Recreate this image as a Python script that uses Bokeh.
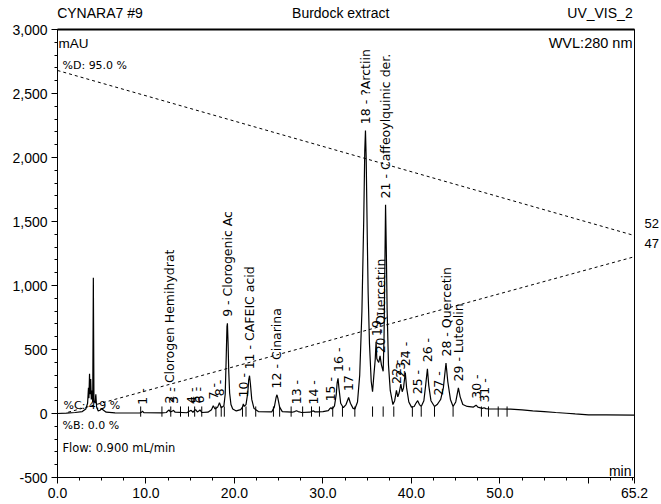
import numpy as np
from bokeh.plotting import figure
from bokeh.models import (FixedTicker, NumeralTickFormatter, Label, ColumnDataSource, Range1d,
                          LinearAxis)
from bokeh.core.properties import value
from bokeh.embed import file_html
from bokeh.resources import INLINE

# ---------------- data ----------------
# chromatogram trace (retention time in min, signal in mAU)
trace_t = [0.0, 1.0, 2.0, 2.8, 3.2, 3.4, 3.5, 3.55, 3.62, 3.68, 3.75, 3.82, 3.9, 3.98, 4.05, 4.12,
           4.25, 4.33, 4.42, 4.6, 4.8, 5.0, 5.2, 5.5, 6.5,
           9.3, 9.5, 9.6, 9.75, 11.8, 12.3, 12.5, 12.6, 12.75, 13.0, 13.1, 13.3, 14.6, 14.9, 15.1,
           15.3, 15.5, 15.6, 15.8, 16.0, 16.1, 16.3, 17.0, 17.4, 17.6, 17.8, 18.1, 18.3, 18.5, 18.7,
           18.8, 18.95, 19.05, 19.15, 19.2, 19.27, 19.35, 19.45, 19.6, 19.8, 20.2,
           20.7, 20.9, 21.0, 21.1, 21.3, 21.5, 21.6, 21.7, 21.8, 21.95, 22.2, 22.7, 24.2, 24.5, 24.7,
           24.8, 24.9, 25.1, 25.4, 26.5, 26.8, 27.0, 27.2, 27.6, 28.5, 28.8, 28.95, 29.1, 29.3,
           30.0, 30.6, 30.8, 30.9, 31.05, 31.3, 31.5, 31.6, 31.7, 31.8, 32.0, 32.3, 32.6, 32.9, 33.1,
           33.4, 33.6, 33.9, 34.15, 34.4, 34.6, 34.72, 34.8, 34.88, 35.0, 35.1, 35.25, 35.45, 35.6,
           35.75, 35.9, 36.0, 36.08, 36.2, 36.3, 36.45, 36.6, 36.8, 36.9, 37.0, 37.07, 37.15, 37.25,
           37.4, 37.6, 37.9, 38.1, 38.3, 38.45, 38.6, 38.8, 38.95, 39.1, 39.3, 39.45, 39.7, 40.0,
           40.3, 40.5, 40.7, 40.9, 41.1, 41.4, 41.6, 41.8, 41.95, 42.2, 42.6, 42.9, 43.1, 43.3, 43.6,
           43.9, 44.1, 44.4, 44.7, 45.0, 45.3, 45.5, 45.8, 46.3, 47.0, 47.3, 47.5, 48.0, 48.2, 48.4,
           48.8, 50.0, 51.2, 52.5, 53.7, 55.0, 56.3, 57.5, 58.5, 60.0, 62.0, 65.2]
trace_mau = [0, 3, 8, 15, 35, 80, 200, 120, 310, 150, 270, 110, 180, 90, 1060, 100,
             80, 150, 50, 20, 25, 37, 25, 10, 5,
             4, 10, 18, 6, 5, 8, 22, 28, 12, 20, 25, 10, 6, 18, 25,
             10, 25, 30, 12, 22, 28, 8, 10, 30, 60, 35, 50, 85, 45, 55,
             60, 150, 400, 680, 705, 560, 330, 160, 70, 35, 20,
             30, 50, 75, 55, 70, 160, 260, 295, 230, 110, 40, 15, 12, 50, 125,
             146, 120, 50, 15, 10, 15, 22, 15, 8, 10, 18, 20, 12, 12,
             15, 22, 40, 45, 35, 60, 150, 240, 275, 200, 80, 45, 70, 125, 80,
             40, 35, 90, 300, 800, 1500, 2050, 2210, 2000, 1400, 950, 550, 250, 170,
             300, 420, 560, 430, 410, 400, 450, 380, 330, 600, 1200, 1630, 1300, 800,
             380, 180, 70, 100, 180, 130, 160, 230, 170, 200, 320, 200, 90, 50,
             55, 80, 100, 70, 55, 100, 220, 350, 220, 100, 55, 70, 90, 110, 200,
             395, 250, 110, 55, 90, 200, 130, 70, 55, 50, 65, 50, 40, 45, 38,
             35, 35, 34, 28, 21, 15, 8, 2, -3, -10, -10, -12]

# gradient profiles drawn on the chromatogram scale
grad_d_t = [0.0, 65.2]
grad_d = [2680, 1390]
grad_c_t = [1.2, 65.2]
grad_c = [10, 1225]
grad_end_labels = ["52", "47"]

# integrated peaks
peak_no = list(range(1, 32))
peak_t = [9.6, 12.6, 13.1, 15.1, 15.6, 16.1, 17.6, 18.3, 19.2, 21.0, 21.7, 24.8, 27.0, 28.9,
          30.9, 31.7, 32.9, 34.8, 36.0, 36.5, 37.1, 38.3, 38.8, 39.3, 40.7, 41.8, 43.1, 43.9,
          45.3, 47.3, 48.2]
peak_h = [18, 28, 25, 25, 30, 28, 60, 85, 705, 75, 295, 146, 22, 20,
          45, 275, 125, 2210, 555, 420, 1630, 180, 230, 320, 100, 350, 90, 395,
          200, 65, 35]
peak_name = ["", "Clorogen Hemihydrat", "", "", "", "", "", "", "Clorogenic Ac", "", "CAFEIC acid",
             "Cinarina", "", "", "", "", "", "?Arctiin", "", "Quercetrin", "Caffeoylquinic der.",
             "", "", "", "", "", "", "Quercetin", "Luteolin", "", ""]
# peak boundary markers
bound_t = [9.4, 11.8, 12.8, 13.9, 14.8, 15.5, 16.3, 17.9, 18.5, 18.85, 20.9, 21.3, 22.4, 24.4,
           25.1, 26.4, 27.7, 28.7, 29.6, 31.1, 32.2, 33.6, 35.6, 36.8, 38.0, 40.1, 41.1, 42.6,
           44.7, 47.9, 48.7, 49.8, 50.8]

header_texts = ["CYNARA7 #9", "Burdock extract", "UV_VIS_2"]

x_ticks = [0, 10, 20, 30, 40, 50, 60, 65.2]
y_ticks = [-500, 0, 500, 1000, 1500, 2000, 2500, 3000]

# ---------------- figure ----------------
p = figure(width=661, height=504, x_range=Range1d(0, 65.2), y_range=Range1d(-500, 3000),
           output_backend="svg", toolbar_location=None, title=None,
           min_border_left=57, min_border_right=18, min_border_top=29, min_border_bottom=27)
p.xgrid.visible = False
p.ygrid.visible = False
p.outline_line_color = "black"
p.outline_line_width = 1
p.background_fill_color = "white"
p.border_fill_color = "white"

ax = p.xaxis[0]
ax.ticker = FixedTicker(ticks=x_ticks, minor_ticks=list(np.arange(0, 65.2, 2.5)))
ax.formatter = NumeralTickFormatter(format="0.0")
ax.major_label_overrides = {60: ""}
ay = p.yaxis[0]
ay.ticker = FixedTicker(ticks=y_ticks, minor_ticks=list(range(-500, 3001, 100)))
ay.formatter = NumeralTickFormatter(format="0,0")
for a in (ax, ay):
    a.axis_line_color = "black"
    a.major_tick_line_color = "black"
    a.minor_tick_line_color = "black"
    a.major_tick_in = 0
    a.major_tick_out = 6
    a.minor_tick_in = 0
    a.minor_tick_out = 3
    a.major_label_text_font = "Liberation Sans"
    a.major_label_text_font_size = "14px"
    a.major_label_text_color = "black"
    a.major_label_standoff = 4

# header line above the frame (axis used only to carry the texts and the thick top rule)
head_pos = [4.8, 32.0, 61.3]
top = LinearAxis(ticker=FixedTicker(ticks=head_pos, minor_ticks=[]),
                 major_label_overrides={k: t for k, t in zip(head_pos, header_texts)},
                 axis_line_width=2, axis_line_color="black", major_tick_line_color=None,
                 minor_tick_line_color=None, major_label_standoff=3,
                 major_label_text_font="Liberation Sans", major_label_text_font_size="14px",
                 major_label_text_color="black")
p.add_layout(top, "above")

# end values of the gradient lines, right of the frame
end_pos = [1486, 1330]
right = LinearAxis(ticker=FixedTicker(ticks=end_pos, minor_ticks=[]),
                   major_label_overrides={k: t for k, t in zip(end_pos, grad_end_labels)},
                   axis_line_color=None, major_tick_line_color=None, minor_tick_line_color=None,
                   major_label_standoff=4, major_label_text_font="Liberation Sans",
                   major_label_text_font_size="13px", major_label_text_color="black")
p.add_layout(right, "right")

# gradient lines
p.line(grad_d_t, grad_d, line_color="black", line_width=1, line_dash="3 3")
p.line(grad_c_t, grad_c, line_color="black", line_width=1, line_dash="3 3")

# chromatogram
p.line(trace_t, trace_mau, line_color="black", line_width=1.2)
p.segment(x0=bound_t, y0=[-25] * len(bound_t), x1=bound_t, y1=[55] * len(bound_t),
          line_color="black", line_width=1)

# peak labels
lab_text = [f"{n} -" if not nm else f"{n} - {nm}" for n, nm in zip(peak_no, peak_name)]
lab_src = ColumnDataSource(dict(x=peak_t, y=[h + 50 for h in peak_h], text=lab_text))
p.text(x="x", y="y", text="text", source=lab_src, angle=np.pi / 2, text_align="left",
       text_baseline="middle", text_font=value("DejaVu Sans"), text_font_size="12.5px",
       text_color="black")

def lab(x, y, text, xo=0, yo=0, align="left", size="14px", font="Liberation Sans"):
    p.add_layout(Label(x=x, y=y, x_offset=xo, y_offset=yo, text=text, text_align=align,
                       text_baseline="alphabetic", text_font=font, text_font_size=size,
                       text_color="black"))

lab(0, 3000, "mAU", xo=1, yo=-14, size="13.5px")
lab(65.2, 3000, "WVL:280 nm", xo=-2, yo=-13, align="right", size="14.5px")
lab(0, 3000, "%D: 95.0 %", xo=5, yo=-36, size="11px", font="DejaVu Sans")
lab(0, 0, "%C: 4.9 %", xo=6, yo=8, size="11px", font="DejaVu Sans")
lab(0, 0, "%B: 0.0 %", xo=5, yo=-12, size="11px", font="DejaVu Sans")
lab(0, 0, "Flow: 0.900 mL/min", xo=5, yo=-34, size="11.5px", font="DejaVu Sans")
lab(65.2, -500, "min", xo=-3, yo=7, align="right", size="14px")

open("out.html", "w").write(file_html(p, INLINE))
